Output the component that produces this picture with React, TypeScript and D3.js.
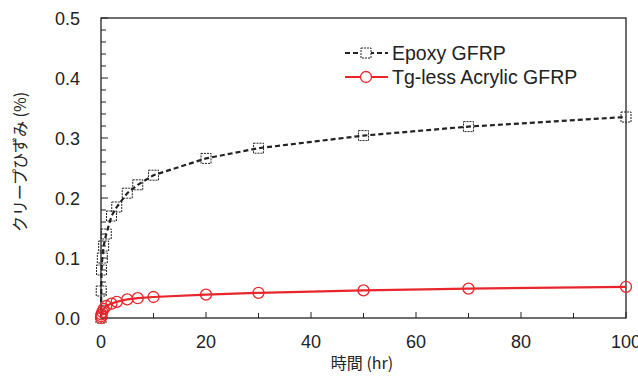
import React, { useEffect, useRef } from 'react';
import * as d3 from 'd3';

// time (hr) and creep strain (%)
const epoxyTime = [0, 0.05, 0.1, 0.25, 0.5, 1, 2, 3, 5, 7, 10, 20, 30, 50, 70, 100];
const epoxyStrain = [0, 0.045, 0.08, 0.1, 0.12, 0.14, 0.17, 0.185, 0.208, 0.222, 0.238, 0.266, 0.283, 0.304, 0.319, 0.335];

const acrylicTime = [0, 0.05, 0.1, 0.25, 0.5, 1, 2, 3, 5, 7, 10, 20, 30, 50, 70, 100];
const acrylicStrain = [0, 0.003, 0.006, 0.01, 0.015, 0.02, 0.024, 0.027, 0.031, 0.033, 0.035, 0.039, 0.042, 0.046, 0.049, 0.052];

const xTicks = [0, 20, 40, 60, 80, 100];
const yTicks = [0, 0.1, 0.2, 0.3, 0.4, 0.5];

const seriesNames = ['Epoxy GFRP', 'Tg-less Acrylic GFRP'];

function App() {
    const svgRef = useRef<SVGSVGElement>(null);

    useEffect(() => {
        const width = 638;
        const height = 376;
        const margin = { top: 18, right: 12, bottom: 58, left: 101 };
        const w = width - margin.left - margin.right;
        const h = height - margin.top - margin.bottom;
        const font = 'Liberation Sans, Arial, sans-serif';
        const jpFont = 'Noto Sans CJK JP, sans-serif';

        const root = d3.select(svgRef.current);
        root.selectAll('*').remove();
        root.attr('width', width).attr('height', height);

        const svg = root.append('g').attr('transform', `translate(${margin.left},${margin.top})`);

        const x = d3.scaleLinear().domain([0, 100]).range([0, w]);
        const y = d3.scaleLinear().domain([0, 0.5]).range([h, 0]);

        // frame
        svg.append('rect')
            .attr('width', w).attr('height', h)
            .attr('fill', 'none').attr('stroke', '#222').attr('stroke-width', 1.3);

        // x ticks (inward)
        svg.append('g')
            .selectAll('line')
            .data(d3.range(0, 101, 10))
            .enter()
            .append('line')
            .attr('x1', d => x(d)).attr('x2', d => x(d))
            .attr('y1', h).attr('y2', d => h - (d % 20 === 0 ? 6 : 5))
            .attr('stroke', '#222');

        svg.append('g')
            .selectAll('text')
            .data(xTicks)
            .enter()
            .append('text')
            .attr('x', d => x(d)).attr('y', h + 30)
            .attr('text-anchor', 'middle')
            .style('font-family', font).style('font-size', '18px').attr('fill', '#222')
            .text(d => d);

        // y ticks (inward)
        svg.append('g')
            .selectAll('line')
            .data(d3.range(0, 26).map(i => i * 0.02))
            .enter()
            .append('line')
            .attr('x1', 0).attr('x2', (d, i) => (i % 5 === 0 ? 7 : 5))
            .attr('y1', d => y(d)).attr('y2', d => y(d))
            .attr('stroke', '#222');

        svg.append('g')
            .selectAll('text')
            .data(yTicks)
            .enter()
            .append('text')
            .attr('x', -21).attr('y', d => y(d) + 6.5)
            .attr('text-anchor', 'end')
            .style('font-family', font).style('font-size', '18px').attr('fill', '#222')
            .text(d => d.toFixed(1));

        // axis titles
        root.append('text')
            .attr('x', 362).attr('y', height - 7)
            .attr('text-anchor', 'middle')
            .style('font-family', jpFont).style('font-size', '16px').attr('fill', '#222')
            .text('時間 (hr)');

        root.append('text')
            .attr('transform', `translate(26,162) rotate(-90)`)
            .attr('text-anchor', 'middle')
            .style('font-family', jpFont).style('font-size', '16px').attr('fill', '#222')
            .text('クリープひずみ (%)');

        const line = d3.line<[number, number]>()
            .x(d => x(d[0]))
            .y(d => y(d[1]));

        const epoxy: [number, number][] = epoxyTime.map((t, i) => [t, epoxyStrain[i]]);
        const acrylic: [number, number][] = acrylicTime.map((t, i) => [t, acrylicStrain[i]]);

        // epoxy
        svg.append('path')
            .datum(epoxy)
            .attr('d', line)
            .attr('fill', 'none').attr('stroke', '#222').attr('stroke-width', 2.2)
            .attr('stroke-dasharray', '5,3');

        svg.selectAll('.sq')
            .data(epoxy)
            .enter()
            .append('rect')
            .attr('class', 'sq')
            .attr('x', d => x(d[0]) - 5).attr('y', d => y(d[1]) - 5)
            .attr('width', 10).attr('height', 10)
            .attr('fill', 'none').attr('stroke', '#222').attr('stroke-width', 1)
            .attr('stroke-dasharray', '2,1');

        // acrylic
        svg.append('path')
            .datum(acrylic)
            .attr('d', line)
            .attr('fill', 'none').attr('stroke', '#e8262b').attr('stroke-width', 2.2);

        svg.selectAll('.ci')
            .data(acrylic)
            .enter()
            .append('circle')
            .attr('class', 'ci')
            .attr('cx', d => x(d[0])).attr('cy', d => y(d[1]))
            .attr('r', 5.5)
            .attr('fill', 'none').attr('stroke', '#e8262b').attr('stroke-width', 1.3);

        // legend
        const lg = root.append('g').attr('transform', 'translate(345,53)');
        lg.append('line')
            .attr('x1', 0).attr('x2', 43).attr('y1', 0).attr('y2', 0)
            .attr('stroke', '#222').attr('stroke-width', 2.2).attr('stroke-dasharray', '5,3');
        lg.append('rect')
            .attr('x', 16).attr('y', -5).attr('width', 10).attr('height', 10)
            .attr('fill', 'white').attr('stroke', '#222').attr('stroke-dasharray', '2,1');
        lg.append('line')
            .attr('x1', 0).attr('x2', 43).attr('y1', 24).attr('y2', 24)
            .attr('stroke', '#e8262b').attr('stroke-width', 2.2);
        lg.append('circle')
            .attr('cx', 21).attr('cy', 24).attr('r', 5.5)
            .attr('fill', 'white').attr('stroke', '#e8262b').attr('stroke-width', 1.3);
        lg.selectAll('text')
            .data(seriesNames)
            .enter()
            .append('text')
            .attr('x', 47).attr('y', (d, i) => i * 24 + 7)
            .style('font-family', font).style('font-size', '19.5px').attr('fill', '#222')
            .text(d => d);
    }, []);

    return <svg ref={svgRef} style={{ position: 'absolute', left: 0, top: 0 }}></svg>;
}

export default App;
